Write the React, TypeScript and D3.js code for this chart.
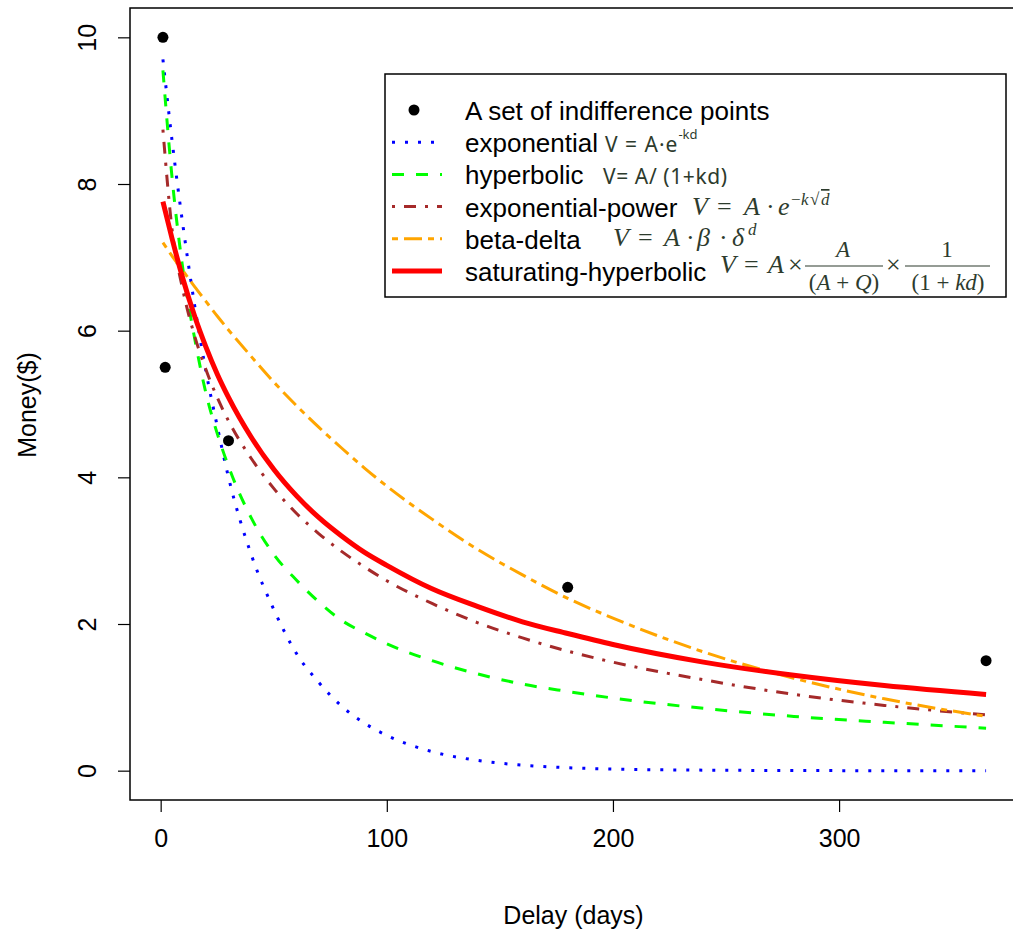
import React, { useEffect, useRef } from "react";
import * as d3 from "d3";

const days = [1, 5, 10, 15, 20, 25, 30, 40, 50, 60, 70, 80, 90, 100, 120, 140, 160, 180, 200, 240, 280, 320, 365];
const exponential = [9.7, 8.6, 7.4, 6.35, 5.45, 4.7, 4.0, 2.95, 2.2, 1.6, 1.2, 0.88, 0.65, 0.48, 0.26, 0.14, 0.075, 0.04, 0.022, 0.007, 0.002, 0.0, 0.0];
const hyperbolic = [9.55, 8.1, 6.8, 5.9, 5.15, 4.6, 4.15, 3.45, 2.95, 2.6, 2.3, 2.05, 1.88, 1.73, 1.5, 1.32, 1.18, 1.08, 0.99, 0.85, 0.74, 0.66, 0.58];
const expPower = [8.74, 7.39, 6.53, 5.93, 5.47, 5.09, 4.77, 4.26, 3.85, 3.51, 3.23, 2.99, 2.78, 2.59, 2.28, 2.02, 1.81, 1.63, 1.48, 1.24, 1.04, 0.89, 0.76];
const betaDelta = [7.2, 7.02, 6.81, 6.6, 6.4, 6.2, 6.01, 5.65, 5.3, 4.98, 4.68, 4.4, 4.13, 3.88, 3.43, 3.02, 2.67, 2.35, 2.08, 1.62, 1.26, 0.98, 0.74];
const satHyper = [7.76, 7.26, 6.69, 6.2, 5.78, 5.41, 5.09, 4.55, 4.11, 3.75, 3.45, 3.2, 2.98, 2.8, 2.48, 2.24, 2.03, 1.87, 1.72, 1.48, 1.3, 1.16, 1.04];

// indifference points
const pointDays = [1, 2, 30, 180, 365];
const pointMoney = [10, 5.5, 4.5, 2.5, 1.5];

const xTicks = [0, 100, 200, 300];
const yTicks = [0, 2, 4, 6, 8, 10];

const series = [
  { name: "exponential", values: exponential, color: "#0000ff", dash: "3,10", width: 3 },
  { name: "hyperbolic", values: hyperbolic, color: "#00ff00", dash: "12,12", width: 3 },
  { name: "exponential-power", values: expPower, color: "#a52a2a", dash: "3,9,12,9", width: 3 },
  { name: "beta-delta", values: betaDelta, color: "#ffa500", dash: "6,6,18,6", width: 3 },
  { name: "saturating-hyperbolic", values: satHyper, color: "#ff0000", dash: null, width: 5 },
];

const W = 1013;
const H = 933;
const box = { left: 130, right: 1019, top: 8, bottom: 800 };
const FONT = "'Liberation Sans', Arial, sans-serif";
const MATH = "'Liberation Serif', 'Times New Roman', serif";
const SANS = "'Noto Sans', 'Open Sans', sans-serif";
const MATHCOL = "#2d3b2d";

export default function App() {
  const svgRef = useRef<SVGSVGElement>(null);

  useEffect(() => {
    const svg = d3.select(svgRef.current);
    svg.selectAll("*").remove();

    const x = d3.scaleLinear().domain([-13.56, 379.56]).range([box.left, box.right]);
    const y = d3.scaleLinear().domain([-0.4, 10.4]).range([box.bottom, box.top]);

    // curves
    const line = d3
      .line<number>()
      .x((_, i) => x(days[i]))
      .y((v) => y(v))
      .curve(d3.curveMonotoneX);

    svg
      .append("g")
      .selectAll("path")
      .data(series)
      .join("path")
      .attr("d", (s) => line(s.values))
      .attr("fill", "none")
      .attr("stroke", (s) => s.color)
      .attr("stroke-width", (s) => s.width)
      .attr("stroke-dasharray", (s) => s.dash)
      .attr("stroke-linecap", "butt");

    // points
    svg
      .append("g")
      .selectAll("circle")
      .data(pointDays)
      .join("circle")
      .attr("cx", (d) => x(d))
      .attr("cy", (_, i) => y(pointMoney[i]))
      .attr("r", 5.5)
      .attr("fill", "#000");

    // box
    svg
      .append("rect")
      .attr("x", box.left)
      .attr("y", box.top)
      .attr("width", box.right - box.left)
      .attr("height", box.bottom - box.top)
      .attr("fill", "none")
      .attr("stroke", "#000")
      .attr("stroke-width", 1.5);

    // axes
    const xAxis = d3.axisBottom(x).tickValues(xTicks).tickSize(12).tickPadding(17);
    const gx = svg.append("g").attr("transform", `translate(0,${box.bottom})`).call(xAxis);
    gx.select(".domain").remove();
    gx.selectAll("line").attr("stroke", "#000").attr("stroke-width", 1.2);
    gx.selectAll("text").attr("font-size", 25).attr("font-family", FONT).attr("fill", "#000");

    const yAxis = d3.axisLeft(y).tickValues(yTicks).tickSize(12);
    const gy = svg.append("g").attr("transform", `translate(${box.left},0)`).call(yAxis);
    gy.select(".domain").remove();
    gy.selectAll("line").attr("stroke", "#000").attr("stroke-width", 1.2);
    gy.selectAll("text")
      .attr("font-size", 25)
      .attr("font-family", FONT)
      .attr("fill", "#000")
      .attr("transform", "rotate(-90)")
      .attr("x", 0)
      .attr("y", -43)
      .attr("dy", "0.36em")
      .attr("text-anchor", "middle");

    // axis titles
    svg
      .append("text")
      .attr("x", (box.left + 1013) / 2 + 2)
      .attr("y", 924)
      .attr("text-anchor", "middle")
      .attr("font-size", 25)
      .attr("font-family", FONT)
      .text("Delay (days)");
    svg
      .append("text")
      .attr("transform", "translate(36,405) rotate(-90)")
      .attr("text-anchor", "middle")
      .attr("font-size", 25)
      .attr("font-family", FONT)
      .text("Money($)");

    // legend
    const lg = svg.append("g");
    lg.append("rect")
      .attr("x", 385)
      .attr("y", 74)
      .attr("width", 621)
      .attr("height", 223)
      .attr("fill", "#fff")
      .attr("stroke", "#000")
      .attr("stroke-width", 1.5);

    const rowY = (i: number) => 110 + i * 32.2;
    lg.append("circle").attr("cx", 414).attr("cy", rowY(0)).attr("r", 5.5).attr("fill", "#000");
    const labels = ["A set of indifference points", ...series.map((s) => s.name)];
    lg.selectAll("text.lab")
      .data(labels)
      .join("text")
      .attr("class", "lab")
      .attr("x", 465)
      .attr("y", (_, i) => rowY(i) + 10)
      .attr("font-size", 26)
      .attr("font-family", FONT)
      .text((d) => d);
    lg.selectAll("line.sym")
      .data(series)
      .join("line")
      .attr("class", "sym")
      .attr("x1", 392)
      .attr("x2", 442)
      .attr("y1", (_, i) => rowY(i + 1))
      .attr("y2", (_, i) => rowY(i + 1))
      .attr("stroke", (s) => s.color)
      .attr("stroke-width", (s) => s.width)
      .attr("stroke-dasharray", (s) => s.dash);

    // formulas
    const txt = (
      t: string,
      tx: number,
      ty: number,
      size: number,
      opts: { italic?: boolean; family?: string; anchor?: string; deco?: string } = {}
    ) =>
      lg
        .append("text")
        .attr("x", tx)
        .attr("y", ty)
        .attr("font-size", size)
        .attr("font-family", opts.family ?? MATH)
        .attr("font-style", opts.italic ? "italic" : "normal")
        .attr("text-anchor", opts.anchor ?? "start")
        .attr("text-decoration", opts.deco ?? "none")
        .attr("fill", MATHCOL)
        .text(t);

    // exponential / hyperbolic (plain sans)
    lg.append("text")
      .attr("x", 605)
      .attr("y", 152)
      .attr("font-size", 21)
      .attr("font-family", SANS)
      .attr("letter-spacing", 1)
      .attr("fill", MATHCOL)
      .call((t) => {
        t.append("tspan").text("V = A·e");
        t.append("tspan").attr("dy", -13).attr("font-size", 13).attr("letter-spacing", 0).text("-kd");
      });
    lg.append("text")
      .attr("x", 603)
      .attr("y", 184)
      .attr("font-size", 21)
      .attr("font-family", SANS)
      .attr("letter-spacing", 0.6)
      .attr("fill", MATHCOL)
      .text("V= A/ (1+kd)");

    // exponential-power
    txt("V", 692, 215, 26, { italic: true });
    txt("=", 717, 215, 26);
    txt("A", 744, 215, 26, { italic: true });
    txt("·", 766, 215, 26);
    txt("e", 778, 215, 26, { italic: true });
    txt("−", 791, 205, 17);
    txt("k", 801, 205, 17, { italic: true });
    txt("√", 810, 205, 17);
    txt("d", 821, 205, 17, { italic: true, deco: "overline" });

    // beta-delta
    txt("V", 613, 246, 26, { italic: true });
    txt("=", 638, 246, 26);
    txt("A", 664, 246, 26, { italic: true });
    txt("·", 686, 246, 26);
    txt("β", 697, 246, 26, { italic: true });
    txt("·", 719, 246, 26);
    txt("δ", 732, 246, 26, { italic: true });
    txt("d", 748, 235, 17, { italic: true });

    // saturating-hyperbolic
    txt("V", 720, 273, 26, { italic: true });
    txt("=", 744, 273, 26);
    txt("A", 768, 273, 26, { italic: true });
    txt("×", 788, 273, 26);
    txt("A", 843, 257, 23, { italic: true, anchor: "middle" });
    lg.append("line").attr("x1", 805).attr("x2", 883).attr("y1", 266).attr("y2", 266).attr("stroke", MATHCOL).attr("stroke-width", 1.2);
    lg.append("text")
      .attr("x", 844)
      .attr("y", 290)
      .attr("font-size", 23)
      .attr("font-family", MATH)
      .attr("text-anchor", "middle")
      .attr("fill", MATHCOL)
      .call((t) => {
        t.append("tspan").text("(");
        t.append("tspan").attr("font-style", "italic").text("A");
        t.append("tspan").text(" + ");
        t.append("tspan").attr("font-style", "italic").text("Q");
        t.append("tspan").text(")");
      });
    txt("×", 886, 273, 26);
    txt("1", 947, 257, 23, { anchor: "middle" });
    lg.append("line").attr("x1", 905).attr("x2", 990).attr("y1", 266).attr("y2", 266).attr("stroke", MATHCOL).attr("stroke-width", 1.2);
    lg.append("text")
      .attr("x", 948)
      .attr("y", 290)
      .attr("font-size", 23)
      .attr("font-family", MATH)
      .attr("text-anchor", "middle")
      .attr("fill", MATHCOL)
      .call((t) => {
        t.append("tspan").text("(1 + ");
        t.append("tspan").attr("font-style", "italic").text("kd");
        t.append("tspan").text(")");
      });
  }, []);

  return (
    <div style={{ position: "absolute", left: 0, top: 0, width: W, height: H, background: "#fff" }}>
      <svg ref={svgRef} width={W} height={H} style={{ display: "block" }} />
    </div>
  );
}
